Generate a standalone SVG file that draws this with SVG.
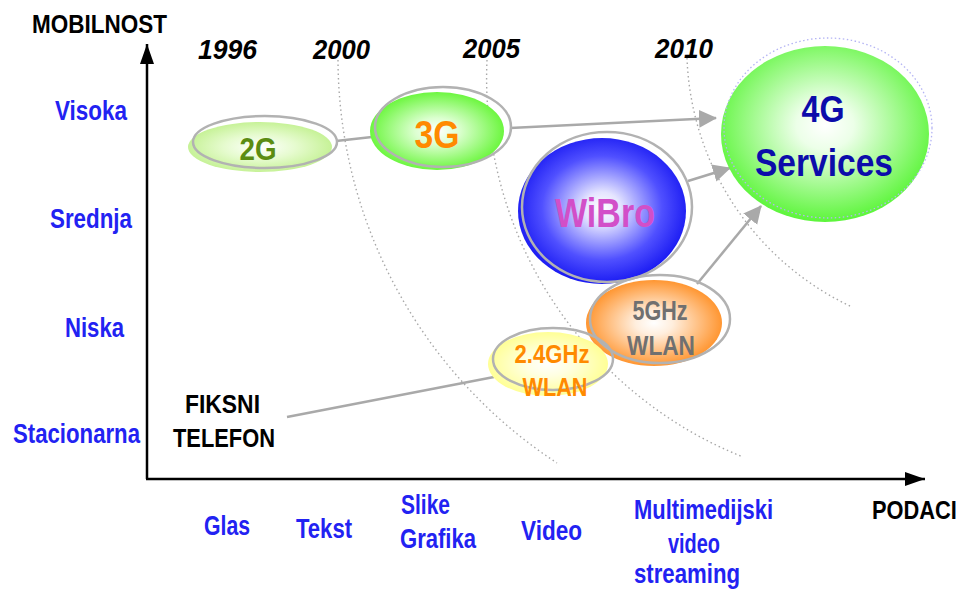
<svg xmlns="http://www.w3.org/2000/svg" width="968" height="592" viewBox="0 0 968 592">
<style>
text{font-family:"Liberation Sans",Arial,sans-serif;font-weight:bold}
.ax{fill:#2222f2;font-size:28px}
.yr{fill:#000;font-size:28px;font-style:italic}
.blk{fill:#000;font-size:26px}
.arc{fill:none;stroke:#a8a8a8;stroke-width:1.4;stroke-dasharray:1.5 3}
.con{fill:none;stroke:#a9a9a9;stroke-width:2.5}
.ol{fill:none;stroke:#b2b2b2;stroke-width:2.5}
.axis{stroke:#000;stroke-width:2.5;fill:none}
</style>
<defs>
<marker id="ah" markerUnits="userSpaceOnUse" markerWidth="20" markerHeight="20" refX="17" refY="9" orient="auto">
<path d="M0,0 L18,9 L0,18 Z" fill="#a9a9a9"/>
</marker>
<marker id="axh" markerUnits="userSpaceOnUse" markerWidth="22" markerHeight="16" refX="20" refY="7" orient="auto">
<path d="M0,0 L20,7 L0,14 Z" fill="#000"/>
</marker>
<radialGradient id="g2" cx="0.5" cy="0.5" r="0.55">
<stop offset="0" stop-color="#ffffff"/><stop offset="0.45" stop-color="#e6fbcf"/><stop offset="1" stop-color="#c0f08c"/>
</radialGradient>
<radialGradient id="g3" cx="0.5" cy="0.5" r="0.55">
<stop offset="0" stop-color="#ffffff"/><stop offset="0.3" stop-color="#dcffd0"/><stop offset="1" stop-color="#5cf52a"/>
</radialGradient>
<radialGradient id="gw" cx="0.5" cy="0.48" r="0.55">
<stop offset="0" stop-color="#ffffff"/><stop offset="0.2" stop-color="#e4e4ff"/><stop offset="0.65" stop-color="#5050ff"/><stop offset="1" stop-color="#1010f0"/>
</radialGradient>
<radialGradient id="g5" cx="0.5" cy="0.5" r="0.55">
<stop offset="0" stop-color="#ffffff"/><stop offset="0.25" stop-color="#ffeedd"/><stop offset="1" stop-color="#ff8a1a"/>
</radialGradient>
<radialGradient id="g24" cx="0.5" cy="0.5" r="0.55">
<stop offset="0" stop-color="#ffffff"/><stop offset="0.35" stop-color="#ffffe0"/><stop offset="1" stop-color="#ffff8a"/>
</radialGradient>
<radialGradient id="g4" cx="0.5" cy="0.45" r="0.55">
<stop offset="0" stop-color="#ffffff"/><stop offset="0.25" stop-color="#ecffe8"/><stop offset="1" stop-color="#5cf53a"/>
</radialGradient>
</defs>
<rect width="968" height="592" fill="#ffffff"/>

<g id="era-arcs">
<path class="arc" d="M338,60 A484,484 0 0 0 557,463"/>
<path class="arc" d="M487,60 A408,408 0 0 0 743,457"/>
<path class="arc" d="M687,58 A286,286 0 0 0 850,306"/>
</g>

<g id="axes">
<line class="axis" x1="147" y1="479" x2="147" y2="44" marker-end="url(#axh)"/>
<line class="axis" x1="146" y1="479" x2="925" y2="479" marker-end="url(#axh)"/>
<text class="blk" x="32" y="33" font-size="27" textLength="135" lengthAdjust="spacingAndGlyphs">MOBILNOST</text>
<text class="blk" transform="translate(872,519) scale(0.84,1)" x="0" y="0">PODACI</text>
</g>

<g id="years">
<text class="yr" x="198" y="59" textLength="59" lengthAdjust="spacingAndGlyphs">1996</text>
<text class="yr" x="313" y="59" textLength="57" lengthAdjust="spacingAndGlyphs">2000</text>
<text class="yr" x="463" y="58" textLength="57" lengthAdjust="spacingAndGlyphs">2005</text>
<text class="yr" x="655" y="58" textLength="58" lengthAdjust="spacingAndGlyphs">2010</text>
</g>

<g id="mobility-labels">
<text class="ax" x="55" y="120" textLength="72" lengthAdjust="spacingAndGlyphs">Visoka</text>
<text class="ax" x="50" y="228" textLength="82" lengthAdjust="spacingAndGlyphs">Srednja</text>
<text class="ax" x="65" y="337" textLength="59" lengthAdjust="spacingAndGlyphs">Niska</text>
<text class="ax" x="13" y="443" textLength="127" lengthAdjust="spacingAndGlyphs">Stacionarna</text>
</g>

<g id="data-labels">
<text class="ax" x="204" y="535" textLength="46" lengthAdjust="spacingAndGlyphs">Glas</text>
<text class="ax" x="296" y="538" textLength="56" lengthAdjust="spacingAndGlyphs">Tekst</text>
<text class="ax" x="401" y="514" textLength="49" lengthAdjust="spacingAndGlyphs">Slike</text>
<text class="ax" x="400" y="548" textLength="76" lengthAdjust="spacingAndGlyphs">Grafika</text>
<text class="ax" x="521" y="540" textLength="61" lengthAdjust="spacingAndGlyphs">Video</text>
<text class="ax" x="634" y="519" textLength="139" lengthAdjust="spacingAndGlyphs">Multimedijski</text>
<text class="ax" x="668" y="553" textLength="52" lengthAdjust="spacingAndGlyphs">video</text>
<text class="ax" x="634" y="583" textLength="106" lengthAdjust="spacingAndGlyphs">streaming</text>
</g>

<g id="connectors">
<line class="con" x1="336" y1="141" x2="372" y2="137"/>
<line class="con" x1="510" y1="128" x2="716" y2="118" marker-end="url(#ah)"/>
<line class="con" x1="688" y1="181" x2="730" y2="168" marker-end="url(#ah)"/>
<line class="con" x1="697" y1="284" x2="761" y2="206" marker-end="url(#ah)"/>
<line class="con" x1="287" y1="417" x2="494" y2="377"/>
</g>

<g id="fiksni">
<text class="blk" x="185" y="413" textLength="75" lengthAdjust="spacingAndGlyphs">FIKSNI</text>
<text class="blk" x="173" y="447" textLength="102" lengthAdjust="spacingAndGlyphs">TELEFON</text>
</g>

<g id="node-2g">
<ellipse cx="260" cy="147" rx="72" ry="25" fill="url(#g2)"/>
<ellipse class="ol" cx="265" cy="142" rx="72" ry="26"/>
<text x="258" y="160" text-anchor="middle" font-size="31" fill="#5b8c12" textLength="37" lengthAdjust="spacingAndGlyphs">2G</text>
</g>

<g id="node-3g">
<ellipse cx="437" cy="131" rx="67" ry="39" fill="url(#g3)"/>
<ellipse class="ol" cx="443" cy="127" rx="68" ry="40"/>
<text x="437" y="148" text-anchor="middle" font-size="38" fill="#ff8a00" textLength="45" lengthAdjust="spacingAndGlyphs">3G</text>
</g>

<g id="node-wibro">
<ellipse cx="602" cy="211" rx="84" ry="73" fill="url(#gw)"/>
<ellipse class="ol" cx="607" cy="207" rx="85" ry="75"/>
<text x="605" y="227" text-anchor="middle" font-size="40" fill="#d24fc8" textLength="100" lengthAdjust="spacingAndGlyphs">WiBro</text>
</g>

<g id="node-5ghz">
<ellipse cx="654" cy="323" rx="68" ry="43" fill="url(#g5)"/>
<ellipse class="ol" cx="660" cy="319" rx="70" ry="44"/>
<text x="660" y="320" text-anchor="middle" font-size="27" fill="#707070" textLength="55" lengthAdjust="spacingAndGlyphs">5GHz</text>
<text x="661" y="355" text-anchor="middle" font-size="28" fill="#707070" textLength="68" lengthAdjust="spacingAndGlyphs">WLAN</text>
</g>

<g id="node-24ghz">
<ellipse cx="548" cy="364" rx="60" ry="32" fill="url(#g24)"/>
<ellipse class="ol" cx="553" cy="359" rx="60" ry="31"/>
<text x="552" y="363" text-anchor="middle" font-size="26" fill="#ff8a00" textLength="75" lengthAdjust="spacingAndGlyphs">2.4GHz</text>
<text x="555" y="396" text-anchor="middle" font-size="26" fill="#ff8a00" textLength="65" lengthAdjust="spacingAndGlyphs">WLAN</text>
</g>

<g id="node-4g">
<ellipse cx="825" cy="134" rx="104" ry="88" fill="url(#g4)"/>
<ellipse cx="828" cy="128" rx="104" ry="90" fill="none" stroke="#b4b4f4" stroke-width="1.3" stroke-dasharray="1.5 2.5"/>
<text x="823" y="122" text-anchor="middle" font-size="37" fill="#0c0caa" textLength="43" lengthAdjust="spacingAndGlyphs">4G</text>
<text x="824" y="176" text-anchor="middle" font-size="38" fill="#0c0caa" textLength="138" lengthAdjust="spacingAndGlyphs">Services</text>
</g>
</svg>
